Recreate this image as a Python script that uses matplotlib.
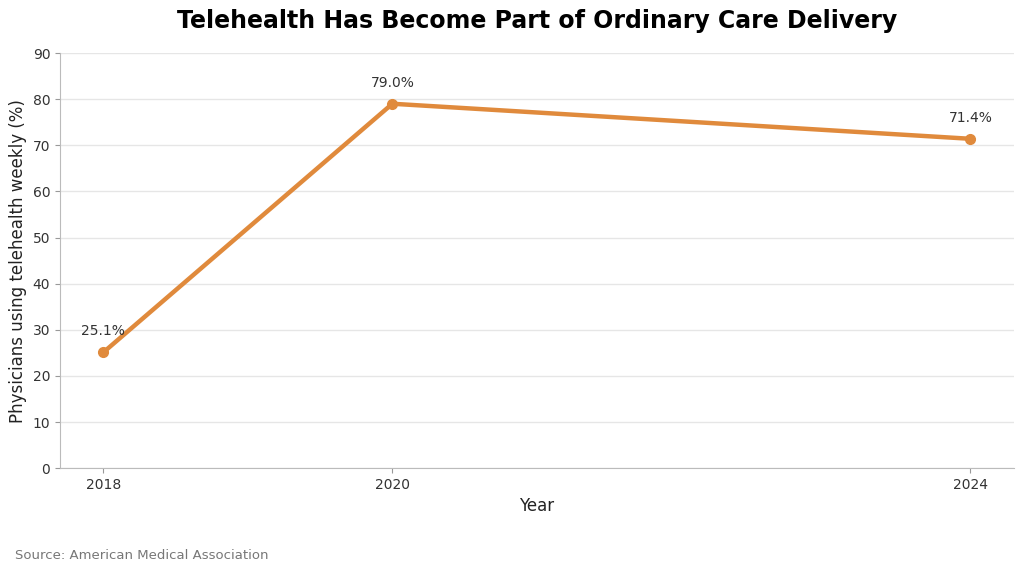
import matplotlib
matplotlib.use("Agg")
import matplotlib.pyplot as plt

years = [2018, 2020, 2024]
share = [25.1, 79.0, 71.4]
labels = ["25.1%", "79.0%", "71.4%"]

fig = plt.figure(figsize=(10.24, 5.73), dpi=100)
ax = fig.add_axes([0.0586, 0.183, 0.9314, 0.7245])

ax.plot(years, share, color="#E08A3C", linewidth=3.2, marker="o", markersize=7, zorder=3)
for x, y, t in zip(years, share, labels):
    ax.annotate(t, (x, y), xytext=(0, 10), textcoords="offset points",
                ha="center", va="bottom", fontsize=10, color="#333333")

ax.set_ylim(0, 90)
ax.set_yticks(range(0, 91, 10))
ax.set_xticks(years)
ax.grid(axis="y", color="#e6e6e6", linewidth=1)
ax.set_axisbelow(True)
for s in ["top", "right"]:
    ax.spines[s].set_visible(False)
for s in ["left", "bottom"]:
    ax.spines[s].set_color("#bbbbbb")
ax.tick_params(colors="#333333", labelsize=10)
ax.tick_params(axis="both", color="#999999")

ax.set_xlabel("Year", fontsize=12, color="#222222")
ax.set_ylabel("Physicians using telehealth weekly (%)", fontsize=12, color="#222222")
fig.suptitle("Telehealth Has Become Part of Ordinary Care Delivery",
             fontsize=17, fontweight="bold", x=0.525, y=0.985)
fig.text(0.015, 0.024, "Source: American Medical Association", fontsize=9.5, color="#777777")

fig.savefig("out.png", dpi=100)
